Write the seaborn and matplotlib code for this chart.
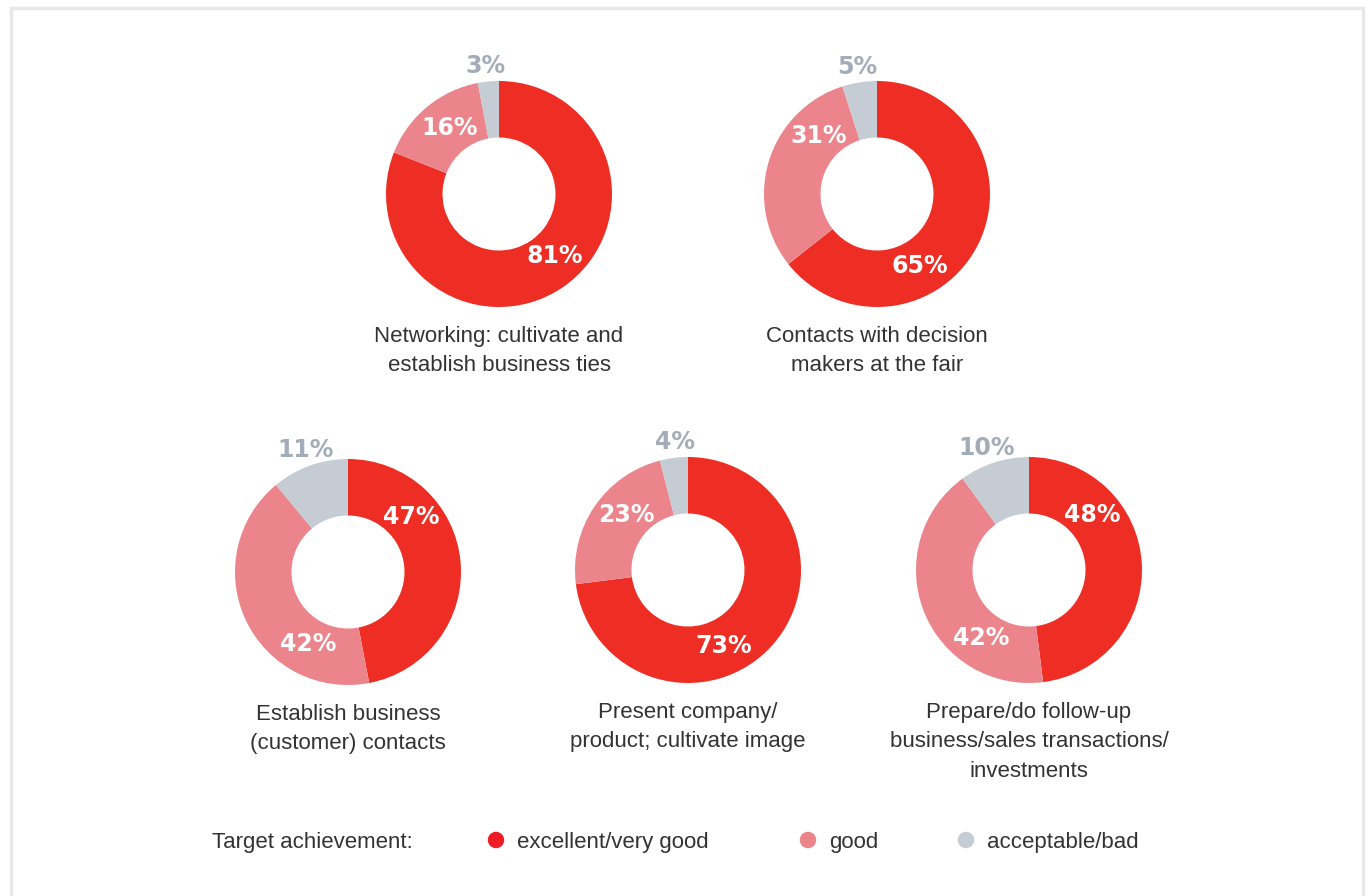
import numpy as np
import matplotlib
matplotlib.use('Agg')
import matplotlib.pyplot as plt
from matplotlib.patches import Rectangle
import seaborn as sns

# --- data -------------------------------------------------------------------
TITLES = [
    'Networking: cultivate and\nestablish business ties',
    'Contacts with decision\nmakers at the fair',
    'Establish business\n(customer) contacts',
    'Present company/\nproduct; cultivate image',
    'Prepare/do follow-up\nbusiness/sales transactions/\ninvestments',
]
EXCELLENT = [81, 65, 47, 73, 48]
GOOD = [16, 31, 42, 23, 42]
BAD = [3, 5, 11, 4, 10]
CATEGORIES = ['excellent/very good', 'good', 'acceptable/bad']
LEGEND_TITLE = 'Target achievement:'

# --- style ------------------------------------------------------------------
COLORS = ['#ee2e24', '#ec848b', '#c5ccd4']
LEGEND_COLORS = ['#ee1c25', '#ec848b', '#c5ccd4']
GRAY_TXT = '#a3adb8'
TEXT = '#333333'

W, H = 1368, 896
CENTERS = [(499, 194), (877, 194), (348, 572), (688, 570), (1029, 570)]
R_PX = 113
HOLE = 0.5
PAD = 1.25

# label angles (deg, clockwise from 12 o'clock) as placed in the original
LABEL_ANG = [
    (138, 323, 354),
    (149, 315, 351),
    (49, 209, 341),
    (155, 312, 354),
    (49, 215, 341),
]
LABEL_R = (0.74, 0.73, 1.14)

sns.set_theme(style='white')
plt.rcParams['font.family'] = ['Liberation Sans', 'DejaVu Sans']

fig = plt.figure(figsize=(W / 100, H / 100), dpi=100)
fig.patch.set_facecolor('white')

# light frame around the panel
fig.add_artist(Rectangle((10.5 / W, -0.01), (1362.5 - 10.5) / W, 1 - 7.5 / H + 0.01,
                         transform=fig.transFigure, fill=False,
                         edgecolor='#e6e8ea', linewidth=2.5))


def donut(ax, values, angles):
    ax.pie(values, colors=COLORS, startangle=90, counterclock=False,
           radius=1, wedgeprops=dict(width=1 - HOLE, edgecolor='none'))
    ax.set_xlim(-PAD, PAD)
    ax.set_ylim(-PAD, PAD)
    ax.set_aspect('equal')
    ax.axis('off')
    for i, (v, a) in enumerate(zip(values, angles)):
        rad = np.deg2rad(a)
        r = LABEL_R[i]
        col = 'white' if i < 2 else GRAY_TXT
        ax.text(r * np.sin(rad), r * np.cos(rad), f'{v}%', ha='center', va='center',
                color=col, fontsize=17, fontweight='bold', family='DejaVu Sans',
                clip_on=False)


half = R_PX * PAD
for k, (cx, cy) in enumerate(CENTERS):
    ax = fig.add_axes([(cx - half) / W, 1 - (cy + half) / H, 2 * half / W, 2 * half / H])
    donut(ax, [EXCELLENT[k], GOOD[k], BAD[k]], LABEL_ANG[k])
    fig.text(cx / W, 1 - (cy + R_PX + 19) / H, TITLES[k], ha='center', va='top',
             fontsize=16, color=TEXT, linespacing=1.52)

# legend row
lax = fig.add_axes([0, 0, 1, 1], facecolor='none')
lax.set_xlim(0, W)
lax.set_ylim(H, 0)
lax.axis('off')
lax.text(212, 848, LEGEND_TITLE, ha='left', va='baseline', fontsize=16, color=TEXT)
dot_x = [496, 808, 966]
sns.scatterplot(x=dot_x, y=[840] * 3, hue=CATEGORIES, palette=LEGEND_COLORS,
                s=140, edgecolor='none', legend=False, ax=lax)
for x, lab in zip(dot_x, CATEGORIES):
    lax.text(x + 21, 848, lab, ha='left', va='baseline', fontsize=16, color=TEXT)

fig.savefig('out.png', dpi=100)
